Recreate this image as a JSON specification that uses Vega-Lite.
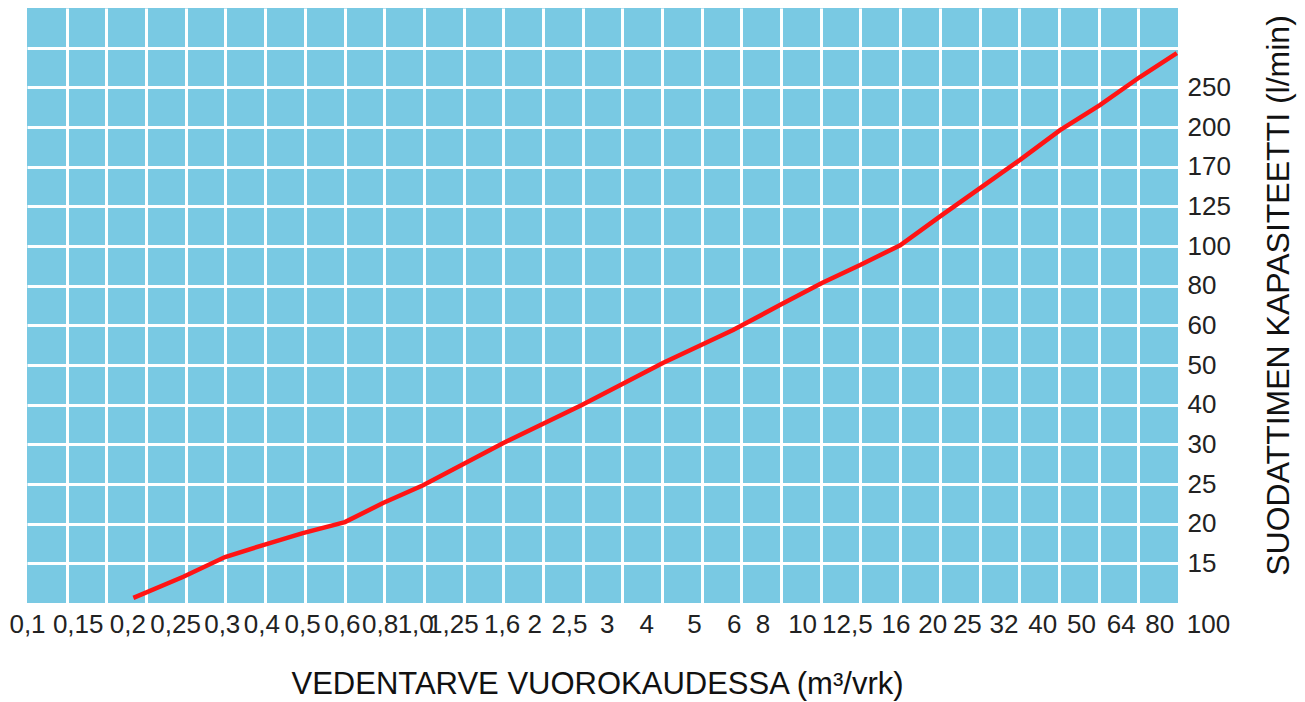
{
  "$schema": "https://vega.github.io/schema/vega-lite/v6.json",
  "width": 1151,
  "height": 595,
  "autosize": {"type": "none"},
  "padding": {"left": 27, "top": 8, "right": 127, "bottom": 99},
  "background": "white",
  "view": {"fill": "#79C9E3", "stroke": null},
  "config": {
    "font": "Liberation Sans",
    "axis": {
      "labelFont": "Liberation Sans",
      "titleFont": "Liberation Sans",
      "labelColor": "#222222",
      "titleColor": "#111111",
      "titleFontWeight": "normal",
      "gridColor": "white",
      "gridWidth": 3,
      "domain": false,
      "ticks": false,
      "tickSize": 0
    }
  },
  "data": {
    "values": [
      {"demand": 0.234, "capacity": 10.65},
      {"demand": 0.297, "capacity": 13.3},
      {"demand": 0.399, "capacity": 15.8},
      {"demand": 0.495, "capacity": 17.3},
      {"demand": 0.595, "capacity": 18.8},
      {"demand": 0.802, "capacity": 20.2},
      {"demand": 0.994, "capacity": 22.6},
      {"demand": 1.245, "capacity": 24.85},
      {"demand": 1.996, "capacity": 30.3},
      {"demand": 2.99, "capacity": 39.9},
      {"demand": 5.02, "capacity": 50.5},
      {"demand": 7.58, "capacity": 58.8},
      {"demand": 9.94, "capacity": 70.2},
      {"demand": 12.6, "capacity": 81.4},
      {"demand": 15.97, "capacity": 90.4},
      {"demand": 20, "capacity": 100.5},
      {"demand": 25.35, "capacity": 119.5},
      {"demand": 32.1, "capacity": 145.7},
      {"demand": 40.2, "capacity": 175.1},
      {"demand": 50.4, "capacity": 197.6},
      {"demand": 64.5, "capacity": 227.5},
      {"demand": 80.8, "capacity": 263},
      {"demand": 99.4, "capacity": 293}
    ]
  },
  "mark": {"type": "line", "color": "#FF1414", "strokeWidth": 4.5, "clip": false},
  "encoding": {
    "x": {
      "field": "demand",
      "type": "quantitative",
      "scale": {
        "domain": [0.1, 0.15, 0.2, 0.25, 0.3, 0.4, 0.5, 0.6, 0.8, 1, 1.25, 1.6, 2, 2.5, 3, 4, 5, 6, 8, 10, 12.5, 16, 20, 25, 32, 40, 50, 64, 80, 100],
        "range": [0, 39.69, 79.38, 119.07, 158.76, 198.45, 238.14, 277.83, 317.52, 357.21, 396.9, 436.59, 476.28, 515.97, 555.66, 595.34, 635.03, 674.72, 714.41, 754.1, 793.79, 833.48, 873.17, 912.86, 952.55, 992.24, 1031.93, 1071.62, 1111.31, 1151],
        "zero": false,
        "nice": false
      },
      "axis": {
        "orient": "bottom",
        "values": [0.1, 0.15, 0.2, 0.25, 0.3, 0.4, 0.5, 0.6, 0.8, 1, 1.25, 1.6, 2, 2.5, 3, 4, 5, 6, 8, 10, 12.5, 16, 20, 25, 32, 40, 50, 64, 80, 100],
        "labelExpr": "datum.value == 1 ? '1,0' : replace(toString(datum.value), '.', ',')",
        "labelFontSize": 26,
        "labelAlign": "center",
        "labelBaseline": "alphabetic",
        "labelPadding": 29,
        "labelFlush": false,
        "labelOverlap": false,
        "labelBound": false,
        "labelOffset": {
          "condition": [
            {"test": "datum.value == 0.15", "value": 11},
            {"test": "datum.value == 0.2", "value": 21},
            {"test": "datum.value == 0.25", "value": 29},
            {"test": "datum.value == 0.3 || datum.value == 0.4", "value": 36},
            {"test": "datum.value == 0.5 || datum.value == 0.6", "value": 37},
            {"test": "datum.value == 0.8", "value": 35},
            {"test": "datum.value == 1", "value": 31},
            {"test": "datum.value == 1.25", "value": 29},
            {"test": "datum.value == 1.6", "value": 38},
            {"test": "datum.value == 2", "value": 31},
            {"test": "datum.value == 2.5 || datum.value == 12.5", "value": 26},
            {"test": "datum.value == 3 || datum.value == 4 || datum.value == 32", "value": 24},
            {"test": "datum.value == 5 || datum.value == 6 || datum.value == 20", "value": 32},
            {"test": "datum.value == 8 || datum.value == 10 || datum.value == 80", "value": 21},
            {"test": "datum.value == 16", "value": 35},
            {"test": "datum.value == 25", "value": 27},
            {"test": "datum.value == 40", "value": 23},
            {"test": "datum.value == 50 || datum.value == 64", "value": 22},
            {"test": "datum.value == 100", "value": 30}
          ],
          "value": 0
        },
        "gridOpacity": {"condition": {"test": "datum.value == 0.1 || datum.value == 100", "value": 0}, "value": 1},
        "title": "VEDENTARVE VUOROKAUDESSA (m³/vrk)",
        "titleFontSize": 31,
        "titleX": 570,
        "titleY": 90,
        "titleAlign": "center",
        "titleBaseline": "alphabetic"
      }
    },
    "y": {
      "field": "capacity",
      "type": "quantitative",
      "scale": {
        "domain": [10, 15, 20, 25, 30, 40, 50, 60, 80, 100, 125, 170, 200, 250, 300, 350],
        "range": [595, 555.33, 515.67, 476, 436.33, 396.67, 357, 317.33, 277.67, 238, 198.33, 158.67, 119, 79.33, 39.67, 0],
        "zero": false,
        "nice": false
      },
      "axis": {
        "orient": "right",
        "values": [15, 20, 25, 30, 40, 50, 60, 80, 100, 125, 170, 200, 250, 300],
        "labelExpr": "datum.value == 300 ? '' : toString(datum.value)",
        "labelFontSize": 26,
        "labelAlign": "left",
        "labelBaseline": "middle",
        "labelPadding": 9,
        "labelFlush": false,
        "labelOverlap": false,
        "labelBound": false,
        "title": "SUODATTIMEN KAPASITEETTI (l/min)",
        "titleFontSize": 32,
        "titleAngle": 270,
        "titleX": 100,
        "titleY": 287,
        "titleAlign": "center",
        "titleBaseline": "middle"
      }
    }
  }
}
